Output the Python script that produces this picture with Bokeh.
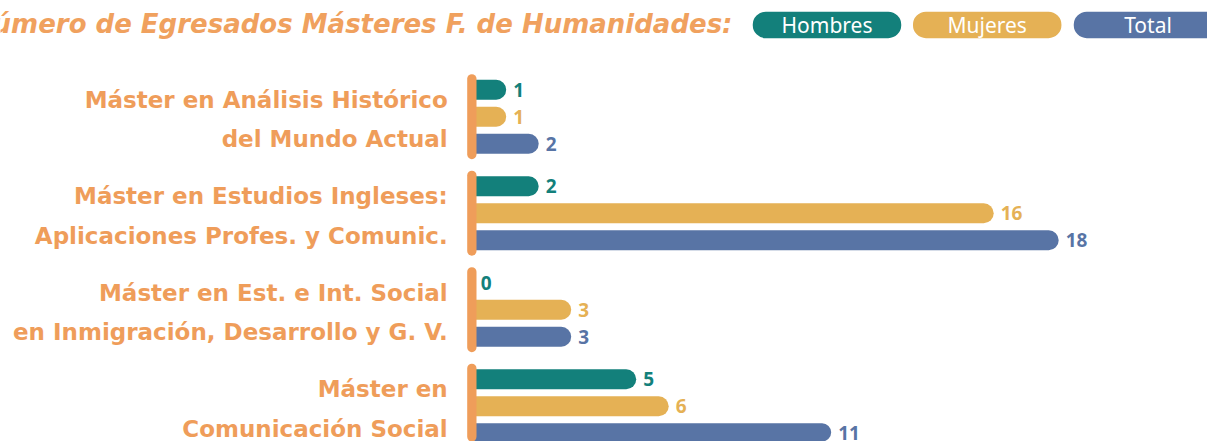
from bokeh.plotting import figure
from bokeh.models import Range1d, ColumnDataSource
from bokeh.core.properties import value
from bokeh.embed import file_html
from bokeh.resources import INLINE

# ---------------- data ----------------
title_text = "Número de Egresados Másteres F. de Humanidades:"
categories = [
    "Máster en Análisis Histórico\ndel Mundo Actual",
    "Máster en Estudios Ingleses:\nAplicaciones Profes. y Comunic.",
    "Máster en Est. e Int. Social\nen Inmigración, Desarrollo y G. V.",
    "Máster en\nComunicación Social",
]
series_names = ["Hombres", "Mujeres", "Total"]
hombres = [1, 2, 0, 5]
mujeres = [1, 16, 3, 6]
total = [2, 18, 3, 11]

colors = ["#13807b", "#e5b155", "#5874a5"]
accent = "#ef9d5a"
title_color = "#f0a15e"
LABEL_FONT = "DejaVu Sans"
NUM_FONT = "Noto Sans"

# ---------------- layout ----------------
W, H = 1207, 441
PX_PER_UNIT = 32.5          # px per value unit
ZERO_PX = 473.2             # frame x of value 0
ROW_PX = 27.0               # px per row unit
TOP_ROW_PX = 89.2           # frame y of first row
GROUP_STEP = 96.5 / ROW_PX  # rows per group

x0 = -ZERO_PX / PX_PER_UNIT
x1 = x0 + W / PX_PER_UNIT
y_top = -TOP_ROW_PX / ROW_PX
y_bot = y_top + H / ROW_PX


def ypx(py):
    """frame pixel row -> data y"""
    return y_top + py / ROW_PX


p = figure(width=W, height=H, output_backend="svg", toolbar_location=None,
           x_range=Range1d(x0, x1), y_range=Range1d(y_bot, y_top),
           min_border=0, outline_line_color=None, background_fill_color="white",
           border_fill_color="white")
p.xaxis.visible = False
p.yaxis.visible = False
p.xgrid.visible = False
p.ygrid.visible = False

series = [hombres, mujeres, total]
bar_h = 20 / ROW_PX
for s, (vals, col) in enumerate(zip(series, colors)):
    ys = [g * GROUP_STEP + s for g in range(len(categories))]
    src = ColumnDataSource(dict(y=ys, v=vals, lab=[str(v) for v in vals]))
    p.hbar(y="y", left=0, right="v", height=bar_h, source=src, color=col,
           line_color=None, border_radius=(0, 10, 10, 0))
    p.text(x="v", y="y", text="lab", source=src, x_offset=7,
           text_baseline="middle", text_align="left", text_color=col,
           text_font=value(NUM_FONT), text_font_style="bold", text_font_size="19px")

# group accent bars and labels
gy = [g * GROUP_STEP + 1 for g in range(len(categories))]
line1 = [c.split("\n")[0] for c in categories]
line2 = [c.split("\n")[1] for c in categories]
gsrc = ColumnDataSource(dict(y=gy, y1=[v - 17.2 / ROW_PX for v in gy],
                             y2=[v + 22.3 / ROW_PX for v in gy], l1=line1, l2=line2))
p.hbar(y="y", left=-6.5 / PX_PER_UNIT, right=2.8 / PX_PER_UNIT, height=85 / ROW_PX,
       source=gsrc, color=accent, line_color=None, border_radius=5)
for col_name, ycol in (("l1", "y1"), ("l2", "y2")):
    p.text(x=0, y=ycol, text=col_name, source=gsrc, x_offset=-26,
           text_baseline="middle", text_align="right", text_color=accent,
           text_font=value(LABEL_FONT), text_font_style="bold", text_font_size="23px")

# title
p.text(x=[0], y=[ypx(23.5)], text=[title_text], x_offset=732 - ZERO_PX,
       text_baseline="middle", text_align="right", text_color=title_color,
       text_font=value(LABEL_FONT), text_font_style="bold italic", text_font_size="26px")

# legend pills
leg_x = [(826.5 - ZERO_PX) / PX_PER_UNIT, (986.7 - ZERO_PX) / PX_PER_UNIT,
         (1147.5 - ZERO_PX) / PX_PER_UNIT]
ly = ypx(24.4)
lsrc = ColumnDataSource(dict(x=leg_x, y=[ly] * 3, c=colors, t=series_names))
p.rect(x="x", y="y", width=148.5 / PX_PER_UNIT, height=26.5 / ROW_PX, source=lsrc,
       fill_color="c", line_color=None, border_radius=13)
p.text(x="x", y="y", text="t", source=lsrc, text_align="center", text_baseline="middle",
       text_color="white", text_font=value(NUM_FONT), text_font_size="21px")

open("out.html", "w").write(file_html(p, INLINE))
